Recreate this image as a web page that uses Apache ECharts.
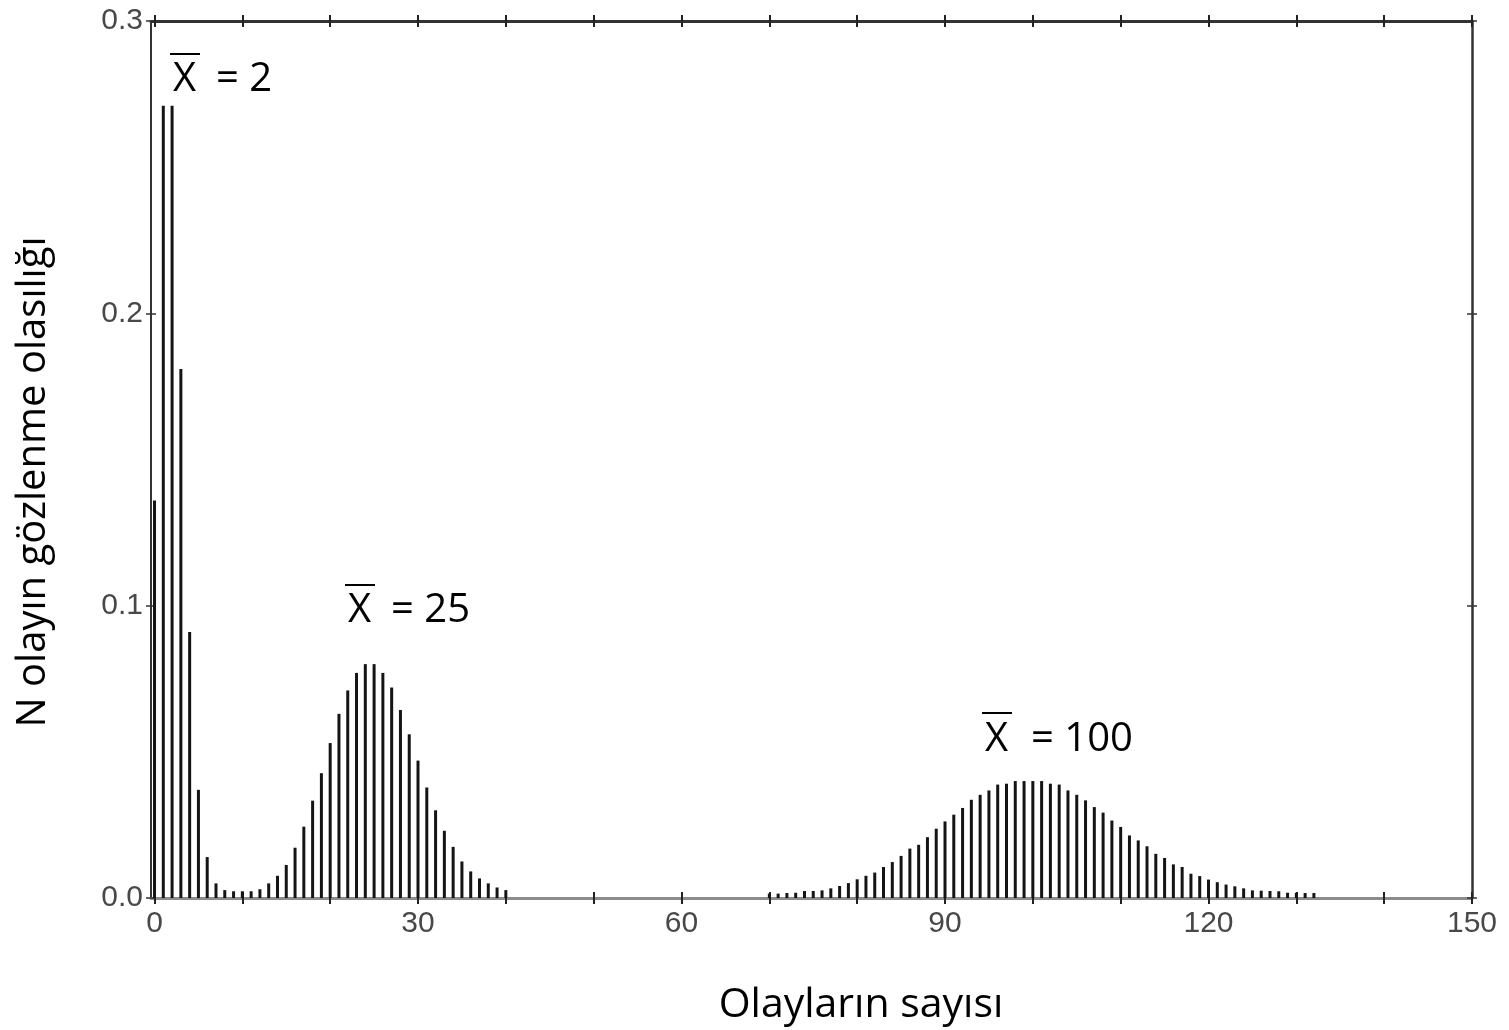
<!DOCTYPE html>
<html><head><meta charset="utf-8">
<script src="https://cdn.jsdelivr.net/npm/echarts@6/dist/echarts.min.js"></script>
<style>html,body{margin:0;padding:0;background:#fff}#c{width:1509px;height:1030px}</style>
</head><body><div id="c"></div>
<script>
// ---- data ----
const xTickValues = [0,10,20,30,40,50,60,70,80,90,100,110,120,130,140,150];
const xLabelValues = [0,30,60,90,120,150];
const yTickValues = [0.0,0.1,0.2,0.3];

// mean = 2
const mean2Start = 0;
const mean2Values = [0.136,0.271,0.271,0.181,0.091,0.037,0.014,0.005,0.0027,0.0023,0.0023];
// mean = 25
const mean25Start = 11;
const mean25Values = [0.0023,0.003,0.005,0.0076,0.0113,0.0172,0.0244,0.0333,0.0427,0.053,
  0.063,0.071,0.077,0.080,0.080,0.077,0.072,0.0643,0.056,0.047,
  0.0378,0.030,0.023,0.0175,0.0125,0.0091,0.0067,0.005,0.0036,0.0027];
// mean = 100
const mean100Start = 70;
const mean100Values = [0.0015,0.0015,0.0017,0.0018,0.0024,0.0024,0.0026,0.0033,0.0041,0.0051,
  0.0064,0.0076,0.0087,0.0106,0.0123,0.0144,0.0169,0.0182,0.0208,0.0237,
  0.0262,0.0285,0.0308,0.0336,0.0353,0.0368,0.0388,0.0391,0.040,0.040,
  0.040,0.040,0.0391,0.0388,0.0368,0.0353,0.0334,0.0311,0.0292,0.0265,
  0.0243,0.0214,0.0197,0.0177,0.0151,0.0137,0.0115,0.0106,0.0083,0.0075,
  0.0063,0.0054,0.0046,0.004,0.0033,0.0026,0.0025,0.0024,0.0023,0.0018,
  0.0018,0.0017,0.0017];

const xTitle = 'Olayların sayısı';
const yTitle = 'N olayın gözlenme olasılığı';
const annotations = [
  {mean: '2'},
  {mean: '25'},
  {mean: '100'}
];

// ---- build ----
const toPairs = (start, vals) => vals.map((v, i) => [start + i, v]);
const chart = echarts.init(document.getElementById('c'), null, {renderer: 'canvas'});

const tickFont = {fontFamily: '"Liberation Sans", Arial, sans-serif', fontSize: 30, color: '#484848'};
const labFont = '"Open Sans", "Noto Sans", sans-serif';

function xAx(pos, inside, showLine, lineStyle, showLabel) {
  return {
    type: 'value', position: pos, min: -0.4, max: 150,
    axisLine: {show: showLine, onZero: false, lineStyle: lineStyle},
    splitLine: {show: false},
    axisTick: {show: true, inside: inside, length: 6, customValues: xTickValues,
      lineStyle: {color: '#222', width: 2}},
    axisLabel: showLabel ? Object.assign({show: true, customValues: xLabelValues, margin: 11}, tickFont)
                         : {show: false}
  };
}
function yAx(pos, inside, showLine, lineStyle, showLabel) {
  return {
    type: 'value', position: pos, min: 0, max: 0.3, interval: 0.1,
    axisLine: {show: showLine, onZero: false, lineStyle: lineStyle},
    splitLine: {show: false},
    axisTick: {show: true, inside: inside, length: 5, lineStyle: {color: '#333', width: 1.5}},
    axisLabel: showLabel ? Object.assign({show: true, margin: 8,
      formatter: v => v.toFixed(1)}, tickFont) : {show: false}
  };
}

const barStyle = {color: '#141414'};
const mkSeries = (name, start, vals) => ({
  name: name, type: 'bar', xAxisIndex: 0, yAxisIndex: 0,
  data: toPairs(start, vals), barWidth: 3, barGap: '-100%',
  itemStyle: barStyle, silent: true, animation: false
});

const annPos = [
  {x: 173, eq: 216, y: 80, ol: 54},
  {x: 348, eq: 391, y: 611, ol: 585},
  {x: 985, eq: 1031, y: 740, ol: 713}
];
const graphics = [];
annotations.forEach((a, i) => {
  const p = annPos[i];
  graphics.push({type: 'text', x: p.x, y: p.y, style: {text: 'X', font: '40px ' + labFont,
    fill: '#000', textAlign: 'left', textVerticalAlign: 'middle'}});
  graphics.push({type: 'text', x: p.eq, y: p.y, style: {text: '= ' + a.mean, font: '40px ' + labFont,
    fill: '#000', textAlign: 'left', textVerticalAlign: 'middle'}});
  graphics.push({type: 'line', shape: {x1: p.x - 3, y1: p.ol, x2: p.x + 27, y2: p.ol},
    style: {stroke: '#000', lineWidth: 2}});
});
graphics.push({type: 'text', x: 861, y: 1005, style: {text: xTitle, font: '41px ' + labFont,
  fill: '#000', textAlign: 'center', textVerticalAlign: 'middle'}});
graphics.push({type: 'text', x: 34, y: 482, rotation: Math.PI / 2, style: {text: yTitle,
  font: '40px ' + labFont, fill: '#000', textAlign: 'center', textVerticalAlign: 'middle'}});

chart.setOption({
  animation: false,
  backgroundColor: '#fff',
  grid: {left: 151, right: 37, top: 21, bottom: 132, containLabel: false},
  xAxis: [
    xAx('bottom', false, true, {color: '#8c8c8c', width: 3}, true),
    xAx('bottom', true, false, {}, false),
    xAx('top', false, true, {color: '#333', width: 3}, false),
    xAx('top', true, false, {}, false)
  ],
  yAxis: [
    yAx('left', false, true, {color: '#333', width: 2}, true),
    yAx('left', true, false, {}, false),
    yAx('right', false, true, {color: '#333', width: 2.5}, false),
    yAx('right', true, false, {}, false)
  ],
  series: [
    mkSeries('mean2', mean2Start, mean2Values),
    mkSeries('mean25', mean25Start, mean25Values),
    mkSeries('mean100', mean100Start, mean100Values)
  ],
  graphic: graphics
});
</script>
</body></html>
